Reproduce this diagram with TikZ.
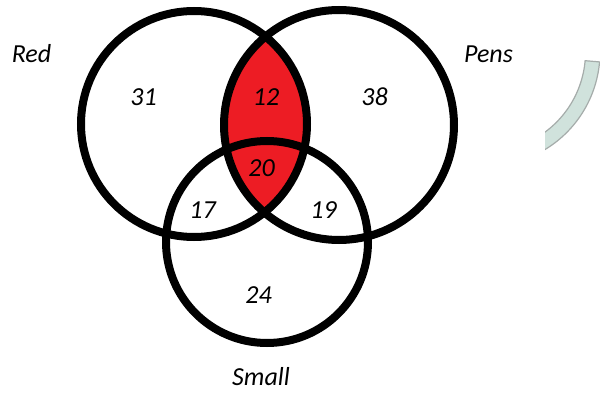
\documentclass[tikz,border=0pt]{standalone}
\usepackage{fontspec}
\setmainfont{Carlito}
\definecolor{vennred}{RGB}{237,28,36}
\definecolor{bandfill}{RGB}{208,226,220}
\definecolor{bandedge}{RGB}{165,172,170}
\begin{document}
\begin{tikzpicture}[x=1pt,y=1pt,
  lbl/.style={font=\fontsize{26}{30}\selectfont\itshape, anchor=base, inner sep=0pt},
  ring/.style={draw=black, line width=8pt}]
\useasboundingbox (0,0) rectangle (600,394);
\fill[white] (0,0) rectangle (600,394);
\coordinate (cR) at (194,270);
\coordinate (cP) at (339,269);
\coordinate (cS) at (267,152);
\begin{scope}
  \clip (cR) circle (113);
  \fill[vennred] (cP) circle (115);
\end{scope}
\draw[ring] (cR) circle (113);
\draw[ring] (cP) circle (115);
\draw[ring] (cS) circle (101);
% labels
\node[lbl] (tRed) at (31.5,331) {Red};
\node[lbl] (tPens) at (488.5,331) {Pens};
\node[lbl] (tSmall) at (261,9) {Small};
\node[lbl] (n31) at (143.5,288) {31};
\node[lbl] (n12) at (266,288) {12};
\node[lbl] (n38) at (374.5,288) {38};
\node[lbl] (n20) at (261.5,217) {20};
\node[lbl] (n17) at (202.5,175) {17};
\node[lbl] (n19) at (323.5,175) {19};
\node[lbl] (n24) at (258.5,90) {24};
% faint arc band at the right edge
\begin{scope}
  \clip (545,0) rectangle (600,394);
  \filldraw[fill=bandfill, draw=bandedge, line width=1.2pt, shift={(486,342)}]
    (-5:114) arc[start angle=-5, end angle=-62, radius=114]
    -- (-62:99.5) arc[start angle=-62, end angle=-5, radius=99.5] -- cycle;
\end{scope}
\end{tikzpicture}
\end{document}
